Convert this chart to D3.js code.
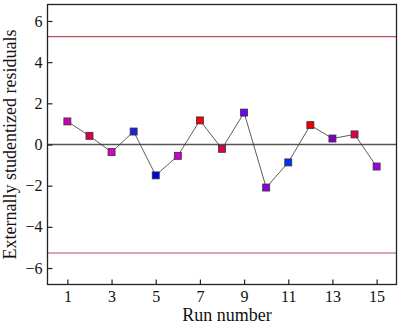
<!DOCTYPE html>
<html>
<head>
<meta charset="utf-8">
<script src="https://cdn.jsdelivr.net/npm/d3@7"></script>
<style>
  body { margin: 0; background: #fff; }
  svg { display: block; }
  text { font-family: "Liberation Serif", "Times New Roman", serif; fill: #111; }
</style>
</head>
<body>
<svg id="chart" width="400" height="324"></svg>
<script>
// Residuals per run
const runs = [1, 2, 3, 4, 5, 6, 7, 8, 9, 10, 11, 12, 13, 14, 15];
const residuals = [1.12, 0.42, -0.37, 0.63, -1.50, -0.55, 1.17, -0.21, 1.55, -2.09, -0.87, 0.94, 0.29, 0.49, -1.07];
const pointColors = ["#d000b0", "#e00040", "#e000c0", "#2020e0", "#0000e0", "#d000d0", "#ff0000", "#e00040",
                     "#7000ff", "#9000e0", "#0030f0", "#f00000", "#8000c0", "#e00040", "#a000e0"];
const limits = [5.24, -5.27];
const xTicks = [1, 3, 5, 7, 9, 11, 13, 15];
const yTicks = [-6, -4, -2, 0, 2, 4, 6];

const serif = '"Liberation Serif", "Times New Roman", serif';
const svg = d3.select("#chart");
const m = { left: 47.5, right: 3.5, top: 4.5, bottom: 39.5 };
const W = 400, H = 324;

const x = d3.scaleLinear().domain([0.1, 15.9]).range([m.left, W - m.right]);
const y = d3.scaleLinear().domain([-6.8, 6.8]).range([H - m.bottom, m.top]);

// limit lines
svg.selectAll("line.limit").data(limits).join("line")
  .attr("class", "limit")
  .attr("x1", m.left).attr("x2", W - m.right)
  .attr("y1", d => y(d)).attr("y2", d => y(d))
  .attr("stroke", "#b8505c").attr("stroke-width", 1.2);

// zero line
svg.append("line")
  .attr("x1", m.left).attr("x2", W - m.right)
  .attr("y1", y(0)).attr("y2", y(0))
  .attr("stroke", "#555").attr("stroke-width", 1.5);

// connecting line
const line = d3.line().x((d, i) => x(runs[i])).y(d => y(d));
svg.append("path")
  .attr("d", line(residuals))
  .attr("fill", "none").attr("stroke", "#333").attr("stroke-width", 0.8);

// markers
const s = 7;
svg.selectAll("rect.pt").data(residuals).join("rect")
  .attr("class", "pt")
  .attr("x", (d, i) => x(runs[i]) - s / 2)
  .attr("y", d => y(d) - s / 2)
  .attr("width", s).attr("height", s)
  .attr("fill", (d, i) => pointColors[i])
  .attr("stroke", "#333").attr("stroke-width", 0.8);

// axes with inward ticks
const xAxis = d3.axisBottom(x).tickValues(xTicks).tickSizeInner(-5).tickSizeOuter(0).tickPadding(6);
const gx = svg.append("g").attr("transform", `translate(0,${H - m.bottom})`).call(xAxis);
const yAxis = d3.axisLeft(y).tickValues(yTicks).tickSizeInner(-5).tickSizeOuter(0).tickPadding(5)
  .tickFormat(d => d < 0 ? "\u2212" + Math.abs(d) : d);
const gy = svg.append("g").attr("transform", `translate(${m.left},0)`).call(yAxis);
[gx, gy].forEach(g => {
  g.attr("font-family", serif);
  g.select(".domain").remove();
  g.selectAll(".tick line").attr("stroke", "#222").attr("stroke-width", 1.2);
  g.selectAll(".tick text").style("font-size", "16px").style("font-family", serif).attr("fill", "#111");
});

// frame
svg.append("rect")
  .attr("x", m.left).attr("y", m.top)
  .attr("width", W - m.left - m.right).attr("height", H - m.top - m.bottom)
  .attr("fill", "none").attr("stroke", "#222").attr("stroke-width", 1.3);

// titles
svg.append("text")
  .attr("x", 227).attr("y", 321)
  .attr("text-anchor", "middle").style("font-size", "18px").style("font-family", serif)
  .text("Run number");
svg.append("text")
  .attr("transform", `translate(16,${(m.top + H - m.bottom) / 2}) rotate(-90)`)
  .attr("text-anchor", "middle").style("font-size", "18px").style("font-family", serif)
  .text("Externally studentized residuals");
</script>
</body>
</html>
